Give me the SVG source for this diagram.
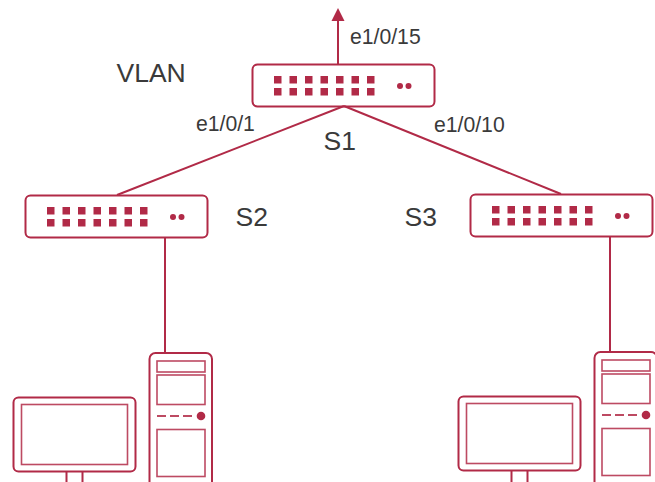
<svg xmlns="http://www.w3.org/2000/svg" width="655" height="482" viewBox="0 0 655 482">
<defs>
<style>
.l{fill:none;stroke:#b12a47;stroke-width:2}
.i{fill:none;stroke:#b12a47;stroke-width:1.6;opacity:.85}
.f{fill:#b12a47}
text{font-family:"Liberation Sans",Arial,sans-serif;fill:#3a3a3a}
.s{font-size:21.200px}
.b{font-size:26.500px}
</style>
<marker id="arr" markerUnits="userSpaceOnUse" markerWidth="14" markerHeight="14" refX="1" refY="7" orient="auto" viewBox="0 0 14 14"><path d="M0 0.500L13 7L0 13.500Z" fill="#b12a47"/></marker>
<g id="ports"><rect x="0" y="0" width="7.500" height="7.500"/><rect x="0" y="12" width="7.500" height="7.500"/></g>
<g id="sw">
<rect class="l" x="0" y="0" width="182" height="42" rx="5"/>
<g class="f">
<use href="#ports" x="21.500" y="11.500"/><use href="#ports" x="37" y="11.500"/><use href="#ports" x="52.500" y="11.500"/><use href="#ports" x="68" y="11.500"/><use href="#ports" x="83.500" y="11.500"/><use href="#ports" x="99" y="11.500"/><use href="#ports" x="114.500" y="11.500"/>
<circle cx="147.500" cy="21.500" r="3"/><circle cx="156" cy="21.500" r="3"/>
</g>
</g>
<g id="mon">
<rect class="l" x="0" y="0" width="122" height="74" rx="5"/>
<rect class="i" x="8" y="7" width="106" height="60"/>
<path class="l" d="M53 74V86M69 74V86"/>
</g>
<g id="tow">
<rect class="l" x="0" y="0" width="62.500" height="140" rx="6"/>
<rect class="i" x="7.500" y="8" width="48" height="11"/>
<rect class="i" x="7.500" y="22" width="48" height="29.500"/>
<path class="i" d="M7.500 63H44" stroke-dasharray="9 4" style="stroke-width:2"/>
<circle class="f" cx="51.500" cy="63" r="4.300"/>
<rect class="i" x="7.500" y="76.500" width="48" height="47"/>
</g>
</defs>
<g id="connectors">
<path class="l" d="M338 64V20" marker-end="url(#arr)"/>
<path class="l" d="M344 106L117 195"/>
<path class="l" d="M344 106L561 194"/>
<path class="l" d="M165 237V353"/>
<path class="l" d="M610 236V352"/>
</g>
<g id="S1"><use href="#sw" x="252.500" y="64.500"/><text class="b" x="323.500" y="150">S1</text></g>
<g id="S2"><use href="#sw" x="25.500" y="195.500"/><text class="b" x="235.500" y="226">S2</text></g>
<g id="S3"><use href="#sw" x="470.500" y="194.500"/><text class="b" x="404.500" y="226">S3</text></g>
<g id="PC1"><use href="#mon" x="13.500" y="397.500"/><use href="#tow" x="149.500" y="353"/></g>
<g id="PC2"><use href="#mon" x="458.500" y="396.500"/><use href="#tow" x="594.500" y="352"/></g>
<g id="labels">
<text class="b" x="116.500" y="82">VLAN</text>
<text class="s" x="350" y="44">e1/0/15</text>
<text class="s" x="196" y="131">e1/0/1</text>
<text class="s" x="434" y="132">e1/0/10</text>
</g>
</svg>
